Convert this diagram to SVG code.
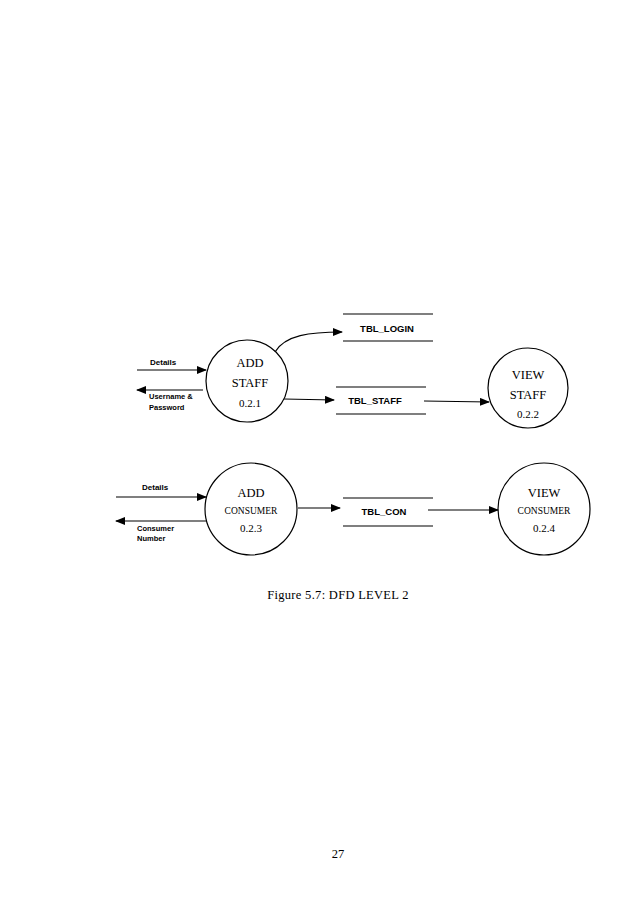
<svg xmlns="http://www.w3.org/2000/svg" width="638" height="903" viewBox="0 0 638 903">
<style>
.c{fill:none;stroke:#000;stroke-width:1.2}
.l{stroke:#000;stroke-width:1.2;fill:none}
.s{font-family:"Liberation Serif",serif;fill:#000;text-anchor:middle}
.b{font-family:"Liberation Sans",sans-serif;font-weight:bold;fill:#000}
</style>
<defs><marker id="a" markerWidth="10" markerHeight="8" refX="9" refY="4" orient="auto" markerUnits="userSpaceOnUse"><path d="M0,0 L10,4 L0,8z" fill="#000"/></marker></defs>
<rect width="638" height="903" fill="#fff"/>
<g id="connectors">
<path class="l" d="M137,370 H206" marker-end="url(#a)"/>
<path class="l" d="M203,390 H137" marker-end="url(#a)"/>
<path class="l" d="M275,352 C285,335 310,332 342,332" marker-end="url(#a)"/>
<path class="l" d="M284,399 L334,400" marker-end="url(#a)"/>
<path class="l" d="M424,401 L489,402" marker-end="url(#a)"/>
<path class="l" d="M116,497 H206" marker-end="url(#a)"/>
<path class="l" d="M206,521 H116" marker-end="url(#a)"/>
<path class="l" d="M298,508 H340" marker-end="url(#a)"/>
<path class="l" d="M428,510 H498" marker-end="url(#a)"/>
</g>
<g id="labels">
<text class="b" x="150" y="365" font-size="8">Details</text>
<text class="b" x="149" y="399" font-size="7.5">Username &amp;</text>
<text class="b" x="149" y="410" font-size="7.5">Password</text>
<text class="b" x="142" y="490" font-size="8">Details</text>
<text class="b" x="137" y="531" font-size="7.5">Consumer</text>
<text class="b" x="137" y="541" font-size="7.5">Number</text>
</g>
<g id="add_staff"><circle class="c" cx="247" cy="381" r="41"/>
<text class="s" x="250" y="367" font-size="12.5">ADD</text><text class="s" x="250" y="387" font-size="12.5">STAFF</text><text class="s" x="250" y="407" font-size="11">0.2.1</text></g>
<g id="tbl_login"><path class="l" d="M343,314 H433 M343,341 H433"/><text class="b" x="387" y="332" font-size="9.5" text-anchor="middle">TBL_LOGIN</text></g>
<g id="tbl_staff"><path class="l" d="M336,387 H426 M336,414 H426"/><text class="b" x="375" y="404" font-size="9.5" text-anchor="middle">TBL_STAFF</text></g>
<g id="view_staff"><circle class="c" cx="528" cy="388" r="40"/>
<text class="s" x="528" y="379" font-size="12.5">VIEW</text><text class="s" x="528" y="399" font-size="12.5">STAFF</text><text class="s" x="528" y="418" font-size="11">0.2.2</text></g>
<g id="add_consumer"><circle class="c" cx="251" cy="509" r="46"/>
<text class="s" x="251" y="497" font-size="12.5">ADD</text><text class="s" x="251" y="514" font-size="9.5">CONSUMER</text><text class="s" x="251" y="532" font-size="11">0.2.3</text></g>
<g id="tbl_con"><path class="l" d="M343,498 H433 M343,526 H433"/><text class="b" x="384" y="515" font-size="9.5" text-anchor="middle">TBL_CON</text></g>
<g id="view_consumer"><circle class="c" cx="544" cy="509" r="46"/>
<text class="s" x="544" y="497" font-size="12.5">VIEW</text><text class="s" x="544" y="514" font-size="9.5">CONSUMER</text><text class="s" x="544" y="532" font-size="11">0.2.4</text></g>
<text class="s" x="338" y="599" font-size="12.5" letter-spacing="0.3">Figure 5.7:  DFD LEVEL 2</text>
<text class="s" x="338" y="858" font-size="12.5">27</text>
</svg>
